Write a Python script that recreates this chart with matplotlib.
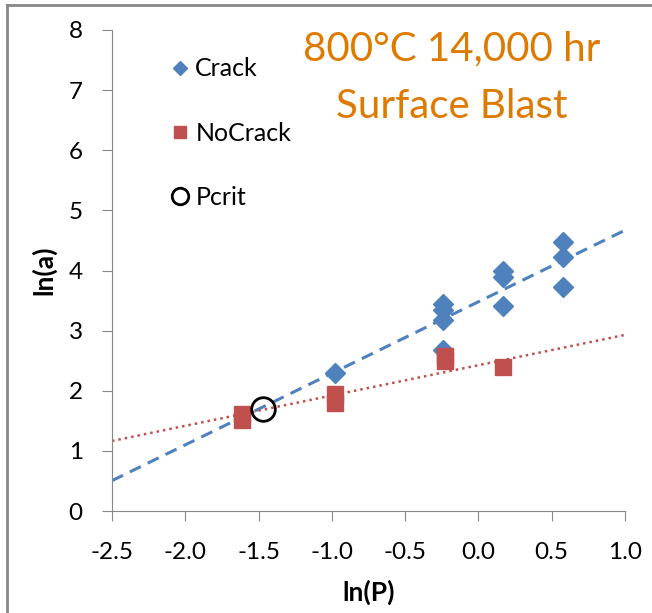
import matplotlib.pyplot as plt
import numpy as np

plt.rcParams['font.family'] = ['Lato', 'DejaVu Sans']

crack_x = [-0.98, -0.24, -0.24, -0.24, -0.24, 0.17, 0.17, 0.17, 0.58, 0.58, 0.58]
crack_y = [2.30, 3.45, 3.35, 3.17, 2.67, 3.99, 3.90, 3.41, 4.48, 4.22, 3.73]
nocrack_x = [-1.61, -1.61, -0.98, -0.98, -0.23, -0.23, 0.17]
nocrack_y = [1.62, 1.52, 1.95, 1.80, 2.58, 2.49, 2.40]
pcrit_x = [-1.47]
pcrit_y = [1.69]

# trend lines as shown in the chart (slope, intercept)
crack_trend = (1.19, 3.48)
nocrack_trend = (0.504, 2.425)

xticks = [-2.5, -2.0, -1.5, -1.0, -0.5, 0.0, 0.5, 1.0]
yticks = [0, 1, 2, 3, 4, 5, 6, 7, 8]

blue = '#4F81BD'
red = '#C0504D'
axis_grey = '#888888'

fig = plt.figure(figsize=(6.52, 6.13), dpi=100)
ax = fig.add_axes([112 / 652, 102 / 613, 513 / 652, 481 / 613])

xx = np.array([-2.5, 1.0])
ax.plot(xx, crack_trend[0] * xx + crack_trend[1], color=blue, lw=2.2,
        ls=(0, (4, 2.5)), zorder=2)
ax.plot(xx, nocrack_trend[0] * xx + nocrack_trend[1], color=red, lw=1.8,
        ls=(0, (1, 1.6)), zorder=2)

ax.plot(crack_x, crack_y, 'D', color=blue, ms=10, mec=blue, label='Crack', zorder=3)
ax.plot(nocrack_x, nocrack_y, 's', color=red, ms=12, mec=red, label='NoCrack', zorder=3)
ax.plot(pcrit_x, pcrit_y, 'o', mfc='none', mec='black', mew=2, ms=17, label='Pcrit', zorder=4)

ax.set_xlim(-2.5, 1.0)
ax.set_ylim(0, 8)
ax.set_xticks(xticks)
ax.set_xticklabels([f'{t:.1f}' for t in xticks])
ax.set_yticks(yticks)
for s in ['top', 'right']:
    ax.spines[s].set_visible(False)
for s in ['left', 'bottom']:
    ax.spines[s].set_color(axis_grey)
ax.tick_params(direction='out', length=7, color=axis_grey, labelsize=17.5)
ax.tick_params(axis='x', pad=15)
ax.tick_params(axis='y', pad=14)

ax.set_xlabel('ln(P)', fontsize=19, fontweight='bold', labelpad=12)
ax.set_ylabel('ln(a)', fontsize=19, fontweight='bold', labelpad=9)

leg = ax.legend(loc='upper left', bbox_to_anchor=(0.06, 0.99), frameon=False,
                fontsize=18, labelspacing=1.65, handletextpad=0.0, handlelength=1.2,
                markerscale=0.7)

# title, two centred lines
fig.text(452 / 652, 1 - 60 / 613, '800°C 14,000 hr', ha='center', va='baseline',
         fontsize=29, color='#DF7A00')
fig.text(452 / 652, 1 - 118 / 613, 'Surface Blast', ha='center', va='baseline',
         fontsize=29, color='#DF7A00')

# grey frame around the chart area
fig.add_artist(plt.Line2D([7 / 652, 7 / 652], [0, 1 - 5 / 613], color=axis_grey, lw=2))
fig.add_artist(plt.Line2D([7 / 652, 1], [1 - 5 / 613, 1 - 5 / 613], color=axis_grey, lw=2))

fig.savefig('out.png', dpi=100)
